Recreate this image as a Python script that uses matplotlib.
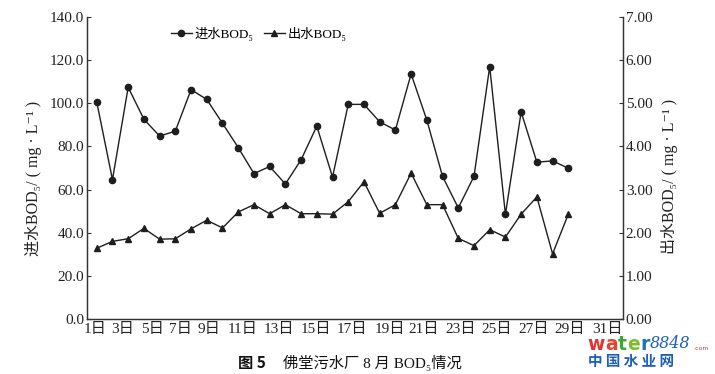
import matplotlib.pyplot as plt
import numpy as np

# Data
days = np.arange(1, 32)
influent = [100.6, 64.6, 107.4, 92.6, 84.8, 87.1, 106.3, 101.8, 90.7, 79.5,
            67.4, 70.7, 62.6, 73.8, 89.4, 65.8, 99.5, 99.5, 91.4, 87.6,
            113.6, 92.2, 66.1, 51.5, 66.1, 117.0, 48.5, 96.0, 72.7, 73.3, 69.9]
effluent = [1.64, 1.80, 1.86, 2.10, 1.85, 1.86, 2.09, 2.29, 2.11, 2.48,
            2.65, 2.44, 2.65, 2.44, 2.44, 2.43, 2.72, 3.18, 2.45, 2.65,
            3.38, 2.65, 2.65, 1.87, 1.70, 2.07, 1.90, 2.43, 2.83, 1.51, 2.43]
tick_labels = ['1日', '3日', '5日', '7日', '9日', '11日', '13日', '15日', '17日',
               '19日', '21日', '23日', '25日', '27日', '29日', '31日']

fonts = ['Liberation Serif', 'DejaVu Serif', 'Noto Sans CJK SC']
plt.rcParams['font.family'] = fonts
ink = '#1e1e1e'

fig = plt.figure(figsize=(7.15, 3.74), dpi=100)
ax = fig.add_axes([87 / 715, 1 - 319 / 374, 536 / 715, 302 / 374])
ax2 = ax.twinx()

ax.plot(days, influent, '-o', color=ink, lw=1.0, ms=4.5, label='进水BOD₅')
ax2.plot(days, effluent, '-^', color=ink, lw=1.0, ms=5, label='出水BOD₅')

ax.set_xlim(0.38, 34.48)
ax.set_ylim(0, 140)
ax2.set_ylim(0, 7)
ax.set_yticks(np.arange(0, 141, 20))
ax.set_yticklabels([f'{v:.1f}' for v in np.arange(0, 141, 20)])
ax2.set_yticks(np.arange(0, 8))
ax2.set_yticklabels([f'{v:.2f}' for v in np.arange(0, 8)])

# labels in the original are laid out like a text run, not on the data grid
tick_pos = [0.89, 2.67, 4.52, 6.34, 8.14, 10.31, 12.6, 14.95, 17.24,
            19.63, 21.82, 24.17, 26.46, 28.82, 31.11, 33.47]
ax.set_xticks(tick_pos)
ax.set_xticklabels(tick_labels)

for a in (ax, ax2):
    a.spines['top'].set_visible(False)
    for s in a.spines.values():
        s.set_color('#333333')
        s.set_linewidth(0.9)
ax.tick_params(axis='y', direction='in', length=3, labelsize=11, pad=2, colors='#333333', labelcolor='#222222')
ax2.tick_params(axis='y', direction='in', length=3, labelsize=11, pad=2, colors='#333333', labelcolor='#222222')
ax.tick_params(axis='x', length=0, labelsize=11, pad=3, labelcolor='#222222')

fig.text(34 / 715, 1 - 178 / 374, '进水BOD₅/ ( mg · L⁻¹ )', rotation=90,
         ha='center', va='center', fontsize=11.5, color='#222222')
fig.text(670 / 715, 1 - 176 / 374, '出水BOD₅/ ( mg · L⁻¹ )', rotation=90,
         ha='center', va='center', fontsize=11.5, color='#222222')

h1, l1 = ax.get_legend_handles_labels()
h2, l2 = ax2.get_legend_handles_labels()
ax.legend(h1 + h2, l1 + l2, loc='center left', bbox_to_anchor=(164 / 715, 1 - 34 / 374),
          bbox_transform=fig.transFigure, ncol=2, frameon=False, fontsize=9.5,
          handlelength=1.6, handletextpad=0.2, columnspacing=0.8, borderpad=0)

# caption
fig.text(238 / 715, 1 - 363 / 374, '图 5', fontsize=11, fontweight='bold',
         family=['Noto Sans CJK SC'], ha='left', va='center', color='#111111')
fig.text(283 / 715, 1 - 363 / 374, '佛堂污水厂 8 月 BOD₅情况', fontsize=11,
         ha='left', va='center', color='#111111')

# watermark
wm_y = 344
wm_x = [587, 605, 618, 627.5, 640]
wm_c = ['#e53232', '#e8412c', '#3aa935', '#7bbd2a', '#1c6fc1']
for x, ch, c in zip(wm_x, 'water', wm_c):
    fig.text(x / 715, 1 - wm_y / 374, ch, fontsize=13.5, fontweight='bold',
             family=['DejaVu Sans'], color=c, ha='left', va='center')
fig.text(650 / 715, 1 - wm_y / 374, '8848', fontsize=11.5, style='italic',
         family=['DejaVu Serif'], color='#1c5fb8', ha='left', va='center')
fig.text(693 / 715, 1 - (wm_y + 5) / 374, '.com', fontsize=4.5, color='#e53232',
         family=['DejaVu Sans'], ha='left', va='center')
fig.text(588 / 715, 1 - 361 / 374, '中 国 水 业 网', fontsize=10.5, fontweight='bold',
         family=['Noto Sans CJK SC'], color='#1c5fb8', ha='left', va='center')

fig.savefig('out.png', dpi=100)
